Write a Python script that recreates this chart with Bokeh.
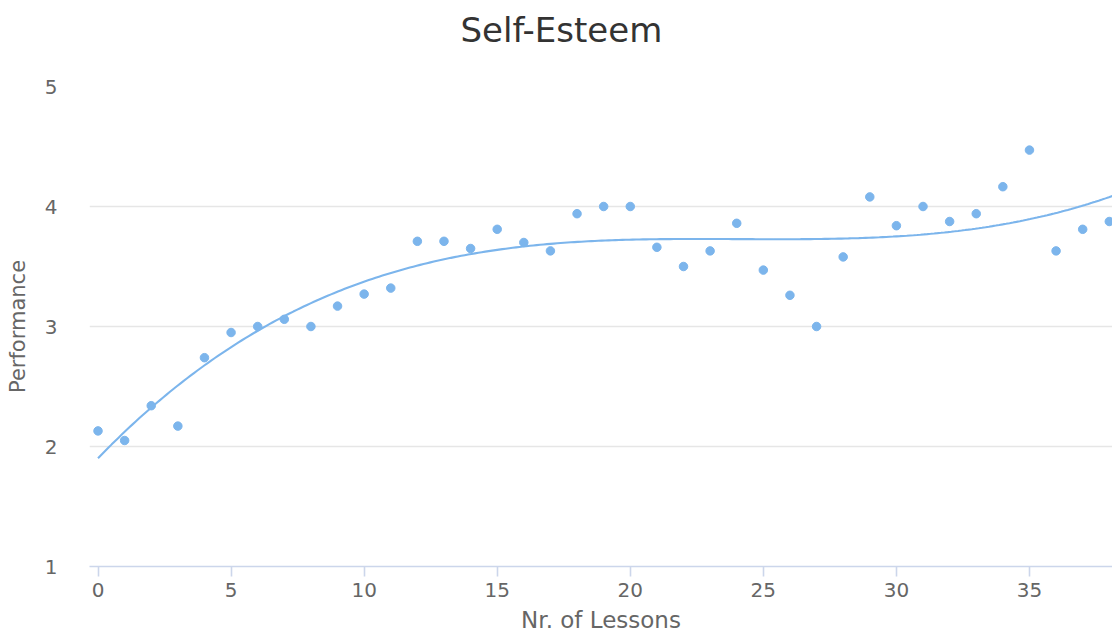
import numpy as np
from bokeh.plotting import figure
from bokeh.models import Range1d, FixedTicker, ColumnDataSource, Title
from bokeh.embed import file_html
from bokeh.resources import INLINE

# ---- data ----
lessons = list(range(39))
performance = [2.13, 2.05, 2.34, 2.17, 2.74, 2.95, 3.00, 3.06, 3.00, 3.17,
               3.27, 3.32, 3.71, 3.71, 3.65, 3.81, 3.70, 3.63, 3.94, 4.00,
               4.00, 3.66, 3.50, 3.63, 3.86, 3.47, 3.26, 3.00, 3.58, 4.08,
               3.84, 4.00, 3.875, 3.94, 4.165, 4.47, 3.63, 3.81, 3.875]
x_ticks = [0, 5, 10, 15, 20, 25, 30, 35]
y_ticks = [1, 2, 3, 4, 5]
title_text = "Self-Esteem"
x_title = "Nr. of Lessons"
y_title = "Performance"
trend_degree = 3

# regression trend line computed from the data
coef = np.polyfit(lessons, performance, trend_degree)
trend_x = np.linspace(0, 38.5, 300)
trend_y = np.polyval(coef, trend_x)

FONT = "DejaVu Sans"
BLUE = "#7cb5ec"

W, H = 1112, 639
LEFT, TOP, BOTTOM = 89, 86, 73

p = figure(width=W, height=H, output_backend="svg", toolbar_location=None,
           x_range=Range1d(-0.32, 38.12), y_range=Range1d(1, 5),
           min_border_left=LEFT, min_border_right=0, min_border_top=TOP,
           min_border_bottom=BOTTOM, title=None)
p.outline_line_color = None
p.background_fill_color = "white"
p.border_fill_color = "white"

# spacer (closest to the frame), then the real title above it
p.add_layout(Title(text=" ", text_font_size="1px", standoff=34), "above")
p.add_layout(Title(text=title_text, align="left", offset=371, standoff=0,
                   vertical_align="bottom", text_font=FONT, text_font_size="34px",
                   text_font_style="normal", text_color="#333333"), "above")

p.xgrid.grid_line_color = None
p.ygrid.grid_line_color = "#e6e6e6"
p.ygrid.grid_line_width = 1.5

xa = p.xaxis[0]
xa.ticker = FixedTicker(ticks=x_ticks)
xa.axis_line_color = "#ccd6eb"
xa.axis_line_width = 1.6
xa.major_tick_line_color = "#ccd6eb"
xa.major_tick_line_width = 1.6
xa.major_tick_out = 10
xa.major_tick_in = 0
xa.minor_tick_line_color = None
xa.major_label_text_color = "#666666"
xa.major_label_text_font = FONT
xa.major_label_text_font_size = "20px"
xa.major_label_standoff = 6
xa.axis_label = x_title
xa.axis_label_text_font = FONT
xa.axis_label_text_font_size = "23px"
xa.axis_label_text_font_style = "normal"
xa.axis_label_text_color = "#666666"
xa.axis_label_standoff = 7

ya = p.yaxis[0]
ya.ticker = FixedTicker(ticks=y_ticks)
ya.axis_line_color = None
ya.major_tick_line_color = None
ya.minor_tick_line_color = None
ya.major_tick_out = 0
ya.major_tick_in = 0
ya.major_label_text_color = "#666666"
ya.major_label_text_font = FONT
ya.major_label_text_font_size = "20px"
ya.major_label_standoff = 32
ya.axis_label = y_title
ya.axis_label_text_font = FONT
ya.axis_label_text_font_size = "21px"
ya.axis_label_text_font_style = "normal"
ya.axis_label_text_color = "#666666"
ya.axis_label_standoff = 12

src = ColumnDataSource(dict(x=lessons, y=performance))
p.line(trend_x, trend_y, line_color=BLUE, line_width=2.1)
p.scatter("x", "y", source=src, size=8.5, fill_color=BLUE, line_color=BLUE)

open("out.html", "w").write(file_html(p, INLINE))
